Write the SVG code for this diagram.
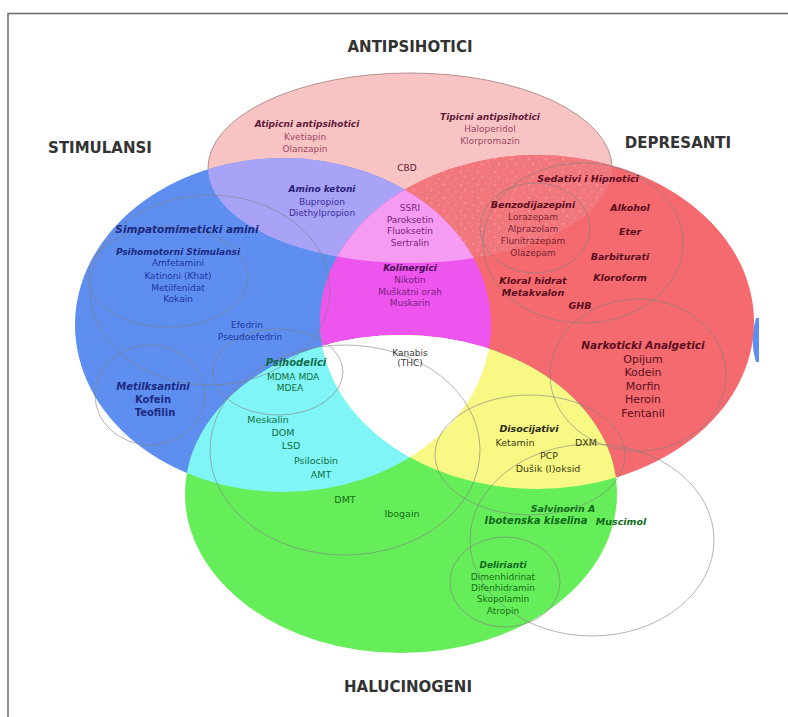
<svg xmlns="http://www.w3.org/2000/svg" width="788" height="717" viewBox="0 0 788 717">
<style>
text{font-family:"DejaVu Sans",Verdana,sans-serif;text-anchor:middle}
.h{font-size:15px;font-weight:bold;fill:#333}
.l{font-size:9px;font-weight:bold;font-style:italic}
.t{font-size:9px}
.o{fill:none;stroke:#808080;stroke-width:1;opacity:0.6}
.pk{fill:#5e1a3a}.pki{fill:#a04868}
.pu{fill:#2a1f7a}.pui{fill:#3a2f9a}
.bl{fill:#1a2a80}.bli{fill:#1f35a0}
.rd{fill:#5a0e1e}.rdi{fill:#7a2434}
.mg{fill:#4a1050}.mgi{fill:#7a2080}
.cy{fill:#0e6a4a}.cyi{fill:#10703a}
.gr{fill:#0f6a1a}.gri{fill:#137013}
.ye{fill:#2a2a10}.yei{fill:#3a3a10}
</style>
<defs>
<clipPath id="cA"><ellipse cx="410" cy="168" rx="202" ry="95"/></clipPath>
<clipPath id="cS"><ellipse cx="283" cy="325" rx="208" ry="167"/></clipPath>
<clipPath id="cD"><ellipse cx="537" cy="322" rx="217" ry="167"/></clipPath>
<clipPath id="cH"><ellipse cx="401" cy="494" rx="216" ry="159"/></clipPath>
<pattern id="speck" width="17" height="13" patternUnits="userSpaceOnUse">
<rect width="17" height="13" fill="#f2777d"/>
<circle cx="2" cy="3" r="1.3" fill="#f48c92"/>
<circle cx="10" cy="1.5" r="1" fill="#f4888e"/>
<circle cx="6" cy="8" r="1.4" fill="#f38a90"/>
<circle cx="14" cy="10" r="1.1" fill="#f58e94"/>
<circle cx="12.5" cy="5.5" r="0.9" fill="#f08086"/>
<circle cx="3" cy="11.5" r="0.9" fill="#f4868c"/>
</pattern>
</defs>
<rect width="788" height="717" fill="#fff"/>
<path d="M8 717V13.5H788" fill="none" stroke="#6a6a6a" stroke-width="1.5"/>
<path d="M756 318Q749 340 756 362L759 362L759 318Z" fill="#5e8ff0"/>

<g id="sets">
<ellipse id="antipsihotici" cx="410" cy="168" rx="202" ry="95" fill="#f8c3c3" stroke="#b89090" stroke-width="1"/>
<ellipse id="stimulansi" cx="283" cy="325" rx="208" ry="167" fill="#5e8ff0"/>
<ellipse id="depresanti" cx="537" cy="322" rx="217" ry="167" fill="#f46a6e"/>
<ellipse id="halucinogeni" cx="401" cy="494" rx="216" ry="159" fill="#66ee5a"/>
<g clip-path="url(#cA)"><ellipse cx="283" cy="325" rx="208" ry="167" fill="#a9a3f7"/><ellipse cx="537" cy="322" rx="217" ry="167" fill="url(#speck)"/></g>
<g clip-path="url(#cS)"><ellipse cx="537" cy="322" rx="217" ry="167" fill="#ee55ee"/><ellipse cx="401" cy="494" rx="216" ry="159" fill="#80f5f8"/></g>
<g clip-path="url(#cS)"><g clip-path="url(#cA)"><ellipse cx="537" cy="322" rx="217" ry="167" fill="#f59cf2"/></g></g>
<g clip-path="url(#cD)"><ellipse cx="401" cy="494" rx="216" ry="159" fill="#f8f885"/></g>
<g clip-path="url(#cS)"><g clip-path="url(#cD)"><ellipse cx="401" cy="494" rx="216" ry="159" fill="#ffffff"/></g></g>
</g>

<g id="subgroups">
<ellipse class="o" cx="583" cy="243" rx="100" ry="80"/>
<ellipse class="o" cx="535" cy="228" rx="55" ry="45"/>
<ellipse class="o" cx="638" cy="375" rx="88" ry="76"/>
<ellipse class="o" cx="210" cy="290" rx="120" ry="95"/>
<ellipse class="o" cx="168" cy="277" rx="80" ry="50"/>
<ellipse class="o" cx="150" cy="395" rx="55" ry="50"/>
<ellipse class="o" cx="278" cy="372" rx="65" ry="43"/>
<ellipse class="o" cx="345" cy="450" rx="135" ry="105"/>
<ellipse class="o" cx="530" cy="455" rx="95" ry="60"/>
<ellipse class="o" cx="592" cy="540" rx="122" ry="96"/>
<ellipse class="o" cx="505" cy="582" rx="55" ry="45"/>
</g>

<g id="headings">
<text class="h" x="410" y="52">ANTIPSIHOTICI</text>
<text class="h" x="100" y="153">STIMULANSI</text>
<text class="h" x="678" y="148">DEPRESANTI</text>
<text class="h" x="408" y="692">HALUCINOGENI</text>
</g>

<g id="antipsihotici-labels">
<text class="l pk" x="307" y="127">Atipicni antipsihotici</text>
<text class="t pki" x="305" y="140">Kvetiapin</text>
<text class="t pki" x="305" y="152">Olanzapin</text>
<text class="l pk" x="490" y="120">Tipicni antipsihotici</text>
<text class="t pki" x="490" y="132">Haloperidol</text>
<text class="t pki" x="490" y="144">Klorpromazin</text>
<text class="t pk" x="407" y="171">CBD</text>
</g>

<g id="amino-ketoni">
<text class="l pu" x="322" y="192">Amino ketoni</text>
<text class="t pui" x="322" y="205">Bupropion</text>
<text class="t pui" x="322" y="216">Diethylpropion</text>
</g>

<g id="ssri">
<text class="t mgi" x="410" y="211">SSRI</text>
<text class="t mgi" x="410" y="223">Paroksetin</text>
<text class="t mgi" x="410" y="234">Fluoksetin</text>
<text class="t mgi" x="410" y="246">Sertralin</text>
</g>

<g id="kolinergici">
<text class="l mg" x="410" y="271">Kolinergici</text>
<text class="t mgi" x="410" y="283">Nikotin</text>
<text class="t mgi" x="410" y="295">Muškatni orah</text>
<text class="t mgi" x="410" y="306">Muskarin</text>
</g>

<g id="sedativi">
<text class="l rd" x="588" y="182" style="font-size:9.5px">Sedativi i Hipnotici</text>
<text class="l rd" x="533" y="208" style="font-size:9.5px">Benzodijazepini</text>
<text class="t rdi" x="533" y="220">Lorazepam</text>
<text class="t rdi" x="533" y="232">Alprazolam</text>
<text class="t rdi" x="533" y="244">Flunitrazepam</text>
<text class="t rdi" x="533" y="256">Olazepam</text>
<text class="l rd" x="630" y="211" style="font-size:9.5px">Alkohol</text>
<text class="l rd" x="630" y="235" style="font-size:9.5px">Eter</text>
<text class="l rd" x="620" y="260" style="font-size:9.5px">Barbiturati</text>
<text class="l rd" x="620" y="281" style="font-size:9.5px">Kloroform</text>
<text class="l rd" x="533" y="284" style="font-size:9.5px">Kloral hidrat</text>
<text class="l rd" x="533" y="296" style="font-size:9.5px">Metakvalon</text>
<text class="l rd" x="580" y="309" style="font-size:9.5px">GHB</text>
</g>

<g id="simpatomimeticki">
<text class="l bl" x="187" y="233" style="font-size:10.5px">Simpatomimeticki amini</text>
<text class="l bl" x="178" y="255">Psihomotorni Stimulansi</text>
<text class="t bli" x="178" y="266">Amfetamini</text>
<text class="t bli" x="178" y="279">Katinoni (Khat)</text>
<text class="t bli" x="178" y="291">Metilfenidat</text>
<text class="t bli" x="178" y="302">Kokain</text>
<text class="t bli" x="247" y="328">Efedrin</text>
<text class="t bli" x="250" y="340">Pseudoefedrin</text>
</g>

<g id="metilksantini">
<text class="l bl" x="153" y="390" style="font-size:10px">Metilksantini</text>
<text class="t bl" x="153" y="403" style="font-size:10px;font-weight:bold">Kofein</text>
<text class="t bl" x="155" y="416" style="font-size:10px;font-weight:bold">Teofilin</text>
</g>

<g id="psihodelici">
<text class="l cy" x="296" y="366" style="font-size:10px">Psihodelici</text>
<text class="t cyi" x="293" y="380">MDMA   MDA</text>
<text class="t cyi" x="290" y="391">MDEA</text>
<text class="t cyi" x="268" y="423" style="font-size:9.5px">Meskalin</text>
<text class="t cyi" x="283" y="436" style="font-size:9.5px">DOM</text>
<text class="t cyi" x="291" y="449" style="font-size:9.5px">LSD</text>
<text class="t cyi" x="316" y="464" style="font-size:9.5px">Psilocibin</text>
<text class="t cyi" x="321" y="478" style="font-size:9.5px">AMT</text>
<text class="t gri" x="345" y="503" style="font-size:9.5px">DMT</text>
<text class="t gri" x="402" y="517" style="font-size:9.5px">Ibogain</text>
</g>

<g id="kanabis">
<text class="t" x="410" y="356" fill="#3a3a3a">Kanabis</text>
<text class="t" x="410" y="366" fill="#3a3a3a">(THC)</text>
</g>

<g id="narkoticki">
<text class="l rd" x="643" y="349" style="font-size:10.5px">Narkoticki Analgetici</text>
<text class="t rd" x="643" y="363" style="font-size:11px">Opijum</text>
<text class="t rd" x="643" y="376" style="font-size:11px">Kodein</text>
<text class="t rd" x="643" y="390" style="font-size:11px">Morfin</text>
<text class="t rd" x="643" y="403" style="font-size:11px">Heroin</text>
<text class="t rd" x="643" y="417" style="font-size:11px">Fentanil</text>
</g>

<g id="disocijativi">
<text class="l ye" x="529" y="432" style="font-size:9.5px">Disocijativi</text>
<text class="t yei" x="515" y="446" style="font-size:9.5px">Ketamin</text>
<text class="t yei" x="586" y="446" style="font-size:9.5px">DXM</text>
<text class="t yei" x="549" y="459" style="font-size:9.5px">PCP</text>
<text class="t yei" x="548" y="472" style="font-size:9.5px">Dušik (I)oksid</text>
</g>

<g id="salvinorin">
<text class="l gr" x="563" y="512" style="font-size:9.5px">Salvinorin A</text>
<text class="l gr" x="536" y="524" style="font-size:10px">Ibotenska kiselina</text>
<text class="l gr" x="621" y="525" style="font-size:9.5px">Muscimol</text>
</g>

<g id="delirianti">
<text class="l gr" x="503" y="568">Delirianti</text>
<text class="t gri" x="503" y="580">Dimenhidrinat</text>
<text class="t gri" x="503" y="591">Difenhidramin</text>
<text class="t gri" x="503" y="602">Skopolamin</text>
<text class="t gri" x="503" y="614">Atropin</text>
</g>
</svg>
